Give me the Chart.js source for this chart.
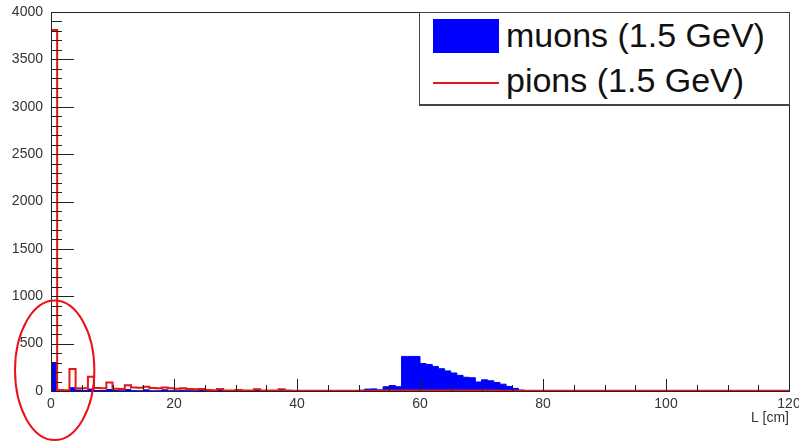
<!DOCTYPE html>
<html>
<head>
<meta charset="utf-8">
<script src="https://cdn.jsdelivr.net/npm/chart.js@4/dist/chart.umd.min.js"></script>
<style>
  body { margin: 0; background: #fff; }
  #wrap { position: relative; width: 799px; height: 443px; }
  #legend {
    position: absolute; left: 419px; top: 12px; width: 371px; height: 94px;
    box-sizing: border-box; border: 1px solid #444; border-bottom-width: 2px;
    background: #fff; font-family: "Liberation Sans", Arial, sans-serif;
  }
  #legend .row { position: absolute; left: 0; width: 100%; height: 40px; }
  #legend .key { position: absolute; left: 13px; width: 66px; }
  #legend .txt { position: absolute; left: 86px; font-size: 34px; line-height: 34px; color: #111; white-space: nowrap; }
</style>
</head>
<body>
<div id="wrap">
  <canvas id="histCanvas"></canvas>
  <div id="legend"></div>
</div>
<script>
// binning: 120 bins of 1 cm from 0 to 120
const binEdges = [];
for (let i = 0; i <= 120; i++) {
  binEdges.push(i);
}

const muonCounts = [
  300, 8, 5, 35, 10, 5, 20, 5, 5, 15,
  5, 3, 15, 4, 3, 12, 3, 3, 12, 3,
  3, 8, 3, 3, 10, 3, 3, 5, 3, 3,
  4, 3, 3, 5, 3, 3, 4, 3, 3, 3,
  3, 4, 3, 3, 3, 4, 3, 3, 3, 5,
  8, 20, 22, 12, 45, 58, 45, 365, 365, 365,
  290, 280, 258, 235, 212, 190, 165, 145, 140, 95,
  118, 108, 90, 72, 48, 28, 10, 2, 0, 4,
  4, 4, 4, 4, 4, 4, 4, 4, 4, 4,
  4, 4, 4, 4, 4, 4, 4, 4, 4, 4,
  4, 4, 4, 0, 4, 4, 4, 4, 4, 4,
  0, 0, 4, 4, 4, 0, 4, 0, 0, 0
];

const pionCounts = [
  3810, 10, 8, 232, 30, 28, 151, 32, 28, 91,
  25, 22, 60, 38, 35, 45, 32, 30, 38, 28,
  25, 30, 22, 18, 22, 10, 8, 20, 6, 5,
  10, 5, 5, 18, 4, 4, 5, 18, 4, 3,
  3, 3, 3, 3, 3, 3, 3, 3, 3, 3,
  3, 3, 3, 3, 4, 4, 5, 6, 6, 6,
  6, 6, 5, 5, 5, 5, 5, 4, 4, 4,
  4, 4, 4, 3, 3, 3, 3, 3, 3, 3,
  3, 3, 3, 3, 3, 3, 3, 3, 3, 3,
  3, 3, 3, 3, 3, 3, 3, 3, 3, 3,
  3, 3, 3, 3, 3, 3, 3, 3, 3, 3,
  3, 3, 3, 3, 3, 3, 3, 3, 3, 3
];

const seriesLabels = ["muons (1.5 GeV)", "pions (1.5 GeV)"];
const xTicks = [0, 20, 40, 60, 80, 100, 120];
const yTicks = [0, 500, 1000, 1500, 2000, 2500, 3000, 3500, 4000];

// turn bin contents into step points: each value holds from its low edge to the next edge
function histPoints(counts) {
  const pts = [{ x: binEdges[0], y: 0 }];
  counts.forEach((c, i) => pts.push({ x: binEdges[i], y: c }));
  pts.push({ x: binEdges[counts.length], y: 0 });
  return pts;
}

const FONT = "'Liberation Sans', Arial, sans-serif";

// ROOT style frame with ticks pointing into the plot
const rootFrame = {
  id: "rootFrame",
  afterDatasetsDraw(chart) {
    const { ctx, chartArea: a, scales } = chart;
    const x = scales.x, y = scales.y;
    ctx.save();
    ctx.strokeStyle = "#222";
    ctx.lineWidth = 1;
    ctx.strokeRect(Math.round(a.left) + 0.5, Math.round(a.top) + 0.5,
      Math.round(a.right - a.left), Math.round(a.bottom - a.top));
    ctx.beginPath();
    for (let v = x.min; v <= x.max; v += 5) {
      const px = Math.round(x.getPixelForValue(v)) + 0.5;
      const len = v % 20 === 0 ? 12 : 6;
      ctx.moveTo(px, a.bottom);
      ctx.lineTo(px, a.bottom - len);
    }
    for (let v = y.min; v <= y.max; v += 100) {
      const py = Math.round(y.getPixelForValue(v)) + 0.5;
      const len = v % 500 === 0 ? 23 : 11;
      ctx.moveTo(a.left, py);
      ctx.lineTo(a.left + len, py);
    }
    ctx.stroke();
    ctx.restore();
  }
};

// hand drawn ring around the first bins
const ringMark = {
  id: "ringMark",
  afterDraw(chart) {
    const { ctx, scales } = chart;
    const x = scales.x, y = scales.y;
    const cx = x.getPixelForValue(0.6), cy = y.getPixelForValue(218);
    const rx = x.getPixelForValue(6.45) - x.getPixelForValue(0);
    const ry = y.getPixelForValue(0) - y.getPixelForValue(736);
    ctx.save();
    ctx.strokeStyle = "rgb(236,16,24)";
    ctx.lineWidth = 2;
    ctx.beginPath();
    ctx.ellipse(cx, cy, rx, ry, 0, 0, Math.PI * 2);
    ctx.stroke();
    ctx.restore();
  }
};

const ctx = document.getElementById("histCanvas").getContext("2d");
const histChart = new Chart(ctx, {
  type: "line",
  data: {
    datasets: [
      {
        label: seriesLabels[0],
        data: histPoints(muonCounts),
        stepped: "before",
        borderColor: "#0000ff",
        borderWidth: 1,
        backgroundColor: "#0000ff",
        fill: "origin",
        pointRadius: 0,
        order: 2,
      },
      {
        label: seriesLabels[1],
        data: histPoints(pionCounts),
        stepped: "before",
        borderColor: "rgb(228,22,22)",
        borderWidth: 2,
        fill: false,
        pointRadius: 0,
        order: 1,
      },
    ],
  },
  options: {
    responsive: true,
    maintainAspectRatio: false,
    animation: false,
    layout: { padding: { top: 12, right: 10, left: 0, bottom: 0 } },
    plugins: {
      legend: { display: false },
      tooltip: { enabled: false },
    },
    scales: {
      x: {
        type: "linear",
        min: 0,
        max: 120,
        grid: { display: false, drawTicks: false },
        border: { display: false },
        afterBuildTicks: (s) => { s.ticks = xTicks.map((v) => ({ value: v })); },
        afterFit: (s) => { s.height = 52; s.paddingLeft = 0; s.paddingRight = 0; },
        ticks: {
          padding: 5,
          maxRotation: 0,
          autoSkip: false,
          color: "#333",
          font: { family: FONT, size: 14 },
          callback: (v) => String(v),
        },
        title: {
          display: true,
          text: "L [cm]",
          align: "end",
          color: "#333",
          font: { family: FONT, size: 14 },
          padding: { top: 0, bottom: 16 },
        },
      },
      y: {
        min: 0,
        max: 4000,
        grid: { display: false, drawTicks: false },
        border: { display: false },
        afterBuildTicks: (s) => { s.ticks = yTicks.map((v) => ({ value: v })); },
        afterFit: (s) => { s.width = 51; s.paddingTop = 0; s.paddingBottom = 0; },
        ticks: {
          padding: 8,
          autoSkip: false,
          color: "#333",
          font: { family: FONT, size: 14 },
          callback: (v) => String(v),
        },
      },
    },
  },
  plugins: [rootFrame, ringMark],
});

// legend box built from the datasets
const legendBox = document.getElementById("legend");
const rowTops = [5, 50];
histChart.data.datasets.forEach((ds, i) => {
  const row = document.createElement("div");
  row.className = "row";
  row.style.top = rowTops[i] + "px";
  const key = document.createElement("div");
  key.className = "key";
  if (ds.fill) {
    key.style.top = "1px";
    key.style.height = "34px";
    key.style.background = ds.backgroundColor;
  } else {
    key.style.top = "19px";
    key.style.height = "1.5px";
    key.style.background = ds.borderColor;
  }
  const txt = document.createElement("div");
  txt.className = "txt";
  txt.style.top = "0px";
  txt.textContent = ds.label;
  row.appendChild(key);
  row.appendChild(txt);
  legendBox.appendChild(row);
});
</script>
</body>
</html>
